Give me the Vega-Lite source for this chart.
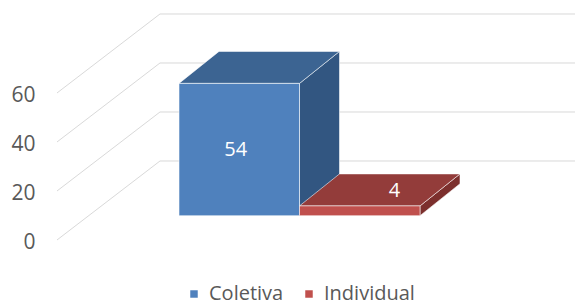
{
  "$schema": "https://vega.github.io/schema/vega-lite/v6.json",
  "width": 575,
  "height": 305,
  "autosize": "none",
  "padding": 0,
  "background": "white",
  "config": {
    "view": {"stroke": null},
    "font": "Open Sans",
    "axisY": {"domain": false, "ticks": false, "tickSize": 0, "grid": false, "labelFontSize": 21, "labelColor": "#595959", "labelPadding": 0, "labelFont": "Open Sans"}
  },
  "layer": [
    {
      "data": {"values": [{"tick": 0}, {"tick": 20}, {"tick": 40}, {"tick": 60}]},
      "transform": [
        {"calculate": "datum.tick - 9.918", "as": "w0"},
        {"calculate": "datum.tick + 22.33", "as": "w1"}
      ],
      "layer": [
        {
          "mark": {"type": "rule", "color": "#d9d9d9", "strokeWidth": 1},
          "encoding": {
            "x": {"datum": -1.0124, "type": "quantitative", "scale": {"domain": [-1.4855, 3.2863], "nice": false, "zero": false}, "axis": null},
            "x2": {"datum": -0.1577},
            "y": {"field": "w0", "type": "quantitative", "scale": {"domain": [-36.45, 88.04], "nice": false, "zero": false},
              "axis": {"values": [0, 20, 40, 60], "offset": -35, "labelOffset": 26.5, "title": null}},
            "y2": {"field": "w1"}
          }
        },
        {
          "mark": {"type": "rule", "color": "#d9d9d9", "strokeWidth": 1},
          "encoding": {
            "x": {"datum": -0.1577, "type": "quantitative", "scale": {"domain": [-1.4855, 3.2863], "nice": false, "zero": false}, "axis": null},
            "x2": {"datum": 3.3},
            "y": {"field": "w1", "type": "quantitative", "scale": {"domain": [-36.45, 88.04], "nice": false, "zero": false},
              "axis": {"values": [0, 20, 40, 60], "offset": -35, "labelOffset": 26.5, "title": null}}
          }
        }
      ]
    },
    {
      "data": {"values": [{"cat": "Coletiva", "value": 54}, {"cat": "Individual", "value": 4}]},
      "transform": [
        {"calculate": "datum.cat === 'Coletiva' ? 0 : 1", "as": "left"},
        {"calculate": "datum.left + 1", "as": "right"}
      ],
      "layer": [
        {
          "transform": [
            {"calculate": "[0, 1]", "as": "t"},
            {"flatten": ["t"]},
            {"calculate": "datum.right + datum.t * 0.332", "as": "sx"},
            {"calculate": "datum.value + datum.t * 13.06", "as": "sy"},
            {"calculate": "datum.t * 13.06", "as": "sy2"}
          ],
          "mark": {"type": "area", "orient": "vertical", "stroke": "#ffffff", "strokeWidth": 0.8, "strokeOpacity": 0.7},
          "encoding": {
            "x": {"field": "sx", "type": "quantitative", "scale": {"domain": [-1.4855, 3.2863], "nice": false, "zero": false}, "axis": null},
            "y": {"field": "sy", "type": "quantitative", "scale": {"domain": [-36.45, 88.04], "nice": false, "zero": false},
              "axis": {"values": [0, 20, 40, 60], "offset": -35, "labelOffset": 26.5, "title": null}},
            "y2": {"field": "sy2"},
            "detail": {"field": "cat"},
            "color": {"condition": {"test": "datum.cat === 'Coletiva'", "value": "#325681"}, "value": "#7c2f2d"}
          }
        },
        {
          "transform": [
            {"calculate": "[0, 1]", "as": "t"},
            {"flatten": ["t"]},
            {"calculate": "datum.left + datum.t * 0.332", "as": "tx"},
            {"calculate": "datum.right + datum.t * 0.332", "as": "tx2"},
            {"calculate": "datum.value + datum.t * 13.06", "as": "ty"}
          ],
          "mark": {"type": "area", "orient": "horizontal", "stroke": "#ffffff", "strokeWidth": 0.8, "strokeOpacity": 0.7},
          "encoding": {
            "y": {"field": "ty", "type": "quantitative", "scale": {"domain": [-36.45, 88.04], "nice": false, "zero": false},
              "axis": {"values": [0, 20, 40, 60], "offset": -35, "labelOffset": 26.5, "title": null}},
            "x": {"field": "tx", "type": "quantitative", "scale": {"domain": [-1.4855, 3.2863], "nice": false, "zero": false}, "axis": null},
            "x2": {"field": "tx2"},
            "detail": {"field": "cat"},
            "color": {"condition": {"test": "datum.cat === 'Coletiva'", "value": "#3c6492"}, "value": "#933c3a"}
          }
        },
        {
          "mark": {"type": "bar", "stroke": "#ffffff", "strokeWidth": 0.8, "strokeOpacity": 0.7},
          "encoding": {
            "x": {"field": "left", "type": "quantitative", "scale": {"domain": [-1.4855, 3.2863], "nice": false, "zero": false}, "axis": null},
            "x2": {"field": "right"},
            "y": {"field": "value", "type": "quantitative", "scale": {"domain": [-36.45, 88.04], "nice": false, "zero": false},
              "axis": {"values": [0, 20, 40, 60], "offset": -35, "labelOffset": 26.5, "title": null}},
            "y2": {"datum": 0},
            "color": {"field": "cat", "type": "nominal",
              "scale": {"domain": ["Coletiva", "Individual"], "range": ["#4f81bd", "#c0504d"]},
              "legend": {"orient": "none", "legendX": 184, "legendY": 284, "direction": "horizontal", "title": null, "symbolType": "square", "symbolSize": 56, "symbolStrokeWidth": 0, "labelFontSize": 20, "labelColor": "#595959", "labelFont": "Open Sans", "columnPadding": 15, "labelOffset": 5, "padding": 0}}
          }
        },
        {
          "transform": [
            {"calculate": "datum.value < 10 ? datum.left + 0.788 : datum.left + 0.47", "as": "lx"},
            {"calculate": "datum.value < 10 ? datum.value + 6.1 : datum.value / 2", "as": "ly"}
          ],
          "mark": {"type": "text", "color": "#ffffff", "fontSize": 20, "font": "Open Sans", "baseline": "middle", "align": "center"},
          "encoding": {
            "x": {"field": "lx", "type": "quantitative", "scale": {"domain": [-1.4855, 3.2863], "nice": false, "zero": false}, "axis": null},
            "y": {"field": "ly", "type": "quantitative", "scale": {"domain": [-36.45, 88.04], "nice": false, "zero": false},
              "axis": {"values": [0, 20, 40, 60], "offset": -35, "labelOffset": 26.5, "title": null}},
            "text": {"field": "value", "type": "quantitative"}
          }
        }
      ]
    }
  ]
}
